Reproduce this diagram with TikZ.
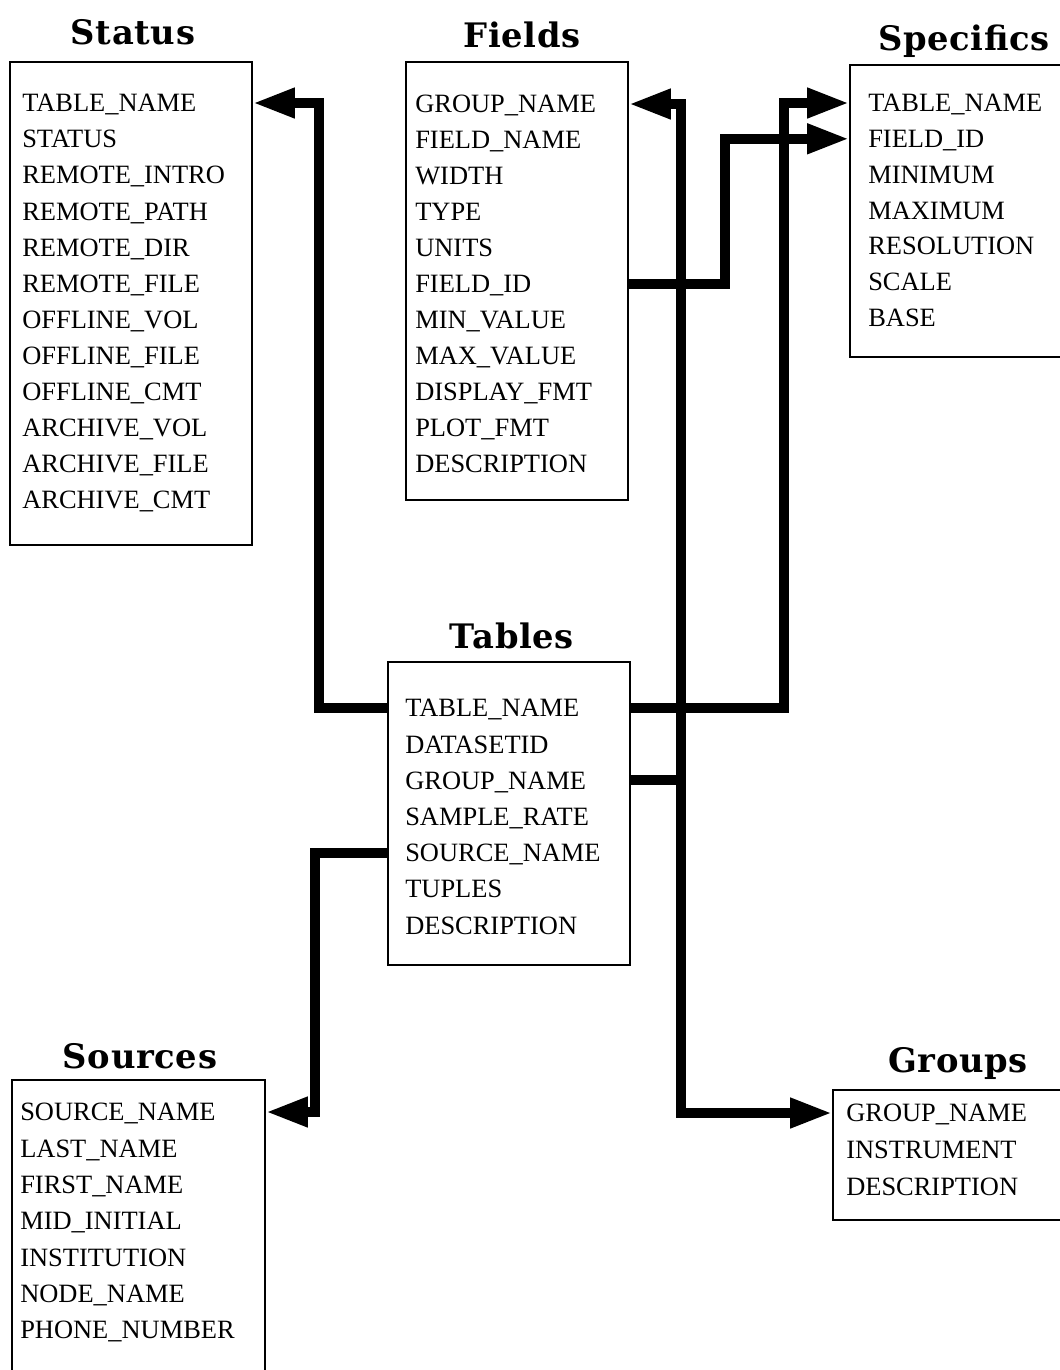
\documentclass[tikz,border=0pt]{standalone}
\usepackage{fontspec}
\setmainfont{Liberation Serif}
\newfontfamily\titlefont[LetterSpace=2]{DejaVu Serif}
\usetikzlibrary{arrows.meta,fit}

\begin{document}
\begin{tikzpicture}[
  x=0.025cm, y=-0.025cm,
  title/.style={anchor=base, inner sep=0pt, font=\titlefont\bfseries\fontsize{24}{27}\selectfont},
  row/.style={anchor=west, inner sep=0pt, text height=12.5pt, text depth=0pt,
    font=\fontsize{18.8}{22}\selectfont},
  tbl/.style={draw, line width=1.2pt, inner sep=0pt},
  tip/.tip={Triangle[length=1.05cm, width=0.7cm]},
  link/.style={line width=7pt, -tip}
]
  \useasboundingbox (0,0) rectangle (1060,1370);

  % the six tables
  \node[title] (status-t) at (133, 44) {Status};
  \node[tbl, fit={(10,62) (252,545)}] (status) {};
  \foreach \f [count=\i] in {TABLE\_NAME, STATUS, REMOTE\_INTRO, REMOTE\_PATH,
      REMOTE\_DIR, REMOTE\_FILE, OFFLINE\_VOL, OFFLINE\_FILE, OFFLINE\_CMT,
      ARCHIVE\_VOL, ARCHIVE\_FILE, ARCHIVE\_CMT}
    \node[row] (st-\i) at (22, 103+36.1*\i-36.1) {\f};

  \node[title] (fields-t) at (522, 47) {Fields};
  \node[tbl, fit={(406,62) (628,500)}] (fields) {};
  \foreach \f [count=\i] in {GROUP\_NAME, FIELD\_NAME, WIDTH, TYPE, UNITS,
      FIELD\_ID, MIN\_VALUE, MAX\_VALUE, DISPLAY\_FMT, PLOT\_FMT, DESCRIPTION}
    \node[row] (fd-\i) at (415, 104+36*\i-36) {\f};

  \node[title] (specifics-t) at (964, 50) {Specifics};
  \node[tbl, fit={(850,65) (1075,357)}] (specifics) {};
  \foreach \f [count=\i] in {TABLE\_NAME, FIELD\_ID, MINIMUM, MAXIMUM,
      RESOLUTION, SCALE, BASE}
    \node[row] (sp-\i) at (868, 103+35.8*\i-35.8) {\f};

  \node[title] (tables-t) at (512, 648) {Tables};
  \node[tbl, fit={(388,662) (630,965)}] (tables) {};
  \foreach \f [count=\i] in {TABLE\_NAME, DATASETID, GROUP\_NAME, SAMPLE\_RATE,
      SOURCE\_NAME, TUPLES, DESCRIPTION}
    \node[row] (tb-\i) at (405, 708+36.2*\i-36.2) {\f};

  \node[title] (sources-t) at (140, 1068) {Sources};
  \node[tbl, fit={(12,1080) (265,1390)}] (sources) {};
  \foreach \f [count=\i] in {SOURCE\_NAME, LAST\_NAME, FIRST\_NAME, MID\_INITIAL,
      INSTITUTION, NODE\_NAME, PHONE\_NUMBER}
    \node[row] (so-\i) at (20, 1112+36.3*\i-36.3) {\f};

  \node[title] (groups-t) at (958, 1072) {Groups};
  \node[tbl, fit={(833,1090) (1075,1220)}] (groups) {};
  \foreach \f [count=\i] in {GROUP\_NAME, INSTRUMENT, DESCRIPTION}
    \node[row] (gr-\i) at (846, 1113+37*\i-37) {\f};

  % links
  \draw[link] (tables.west |- tb-1) -- ++(-68,0) |- (status.east |- st-1);
  \draw[link] (tables.east |- tb-1) -- ++(153,0) |- (specifics.west |- sp-1);
  \draw[link] (fields.east |- fd-6) -- ++(96,0) |- (specifics.west |- sp-2);
  \draw[line width=7pt] (tables.east |- tb-3) -- ++(50,0) coordinate (bus);
  \draw[link, tip-tip] (fields.east |- fd-1) -| (bus) |- (groups.west |- gr-1);
  \draw[link] (tables.west |- tb-5) -- ++(-72,0) |- (sources.east |- so-1);

\end{tikzpicture}
\end{document}
